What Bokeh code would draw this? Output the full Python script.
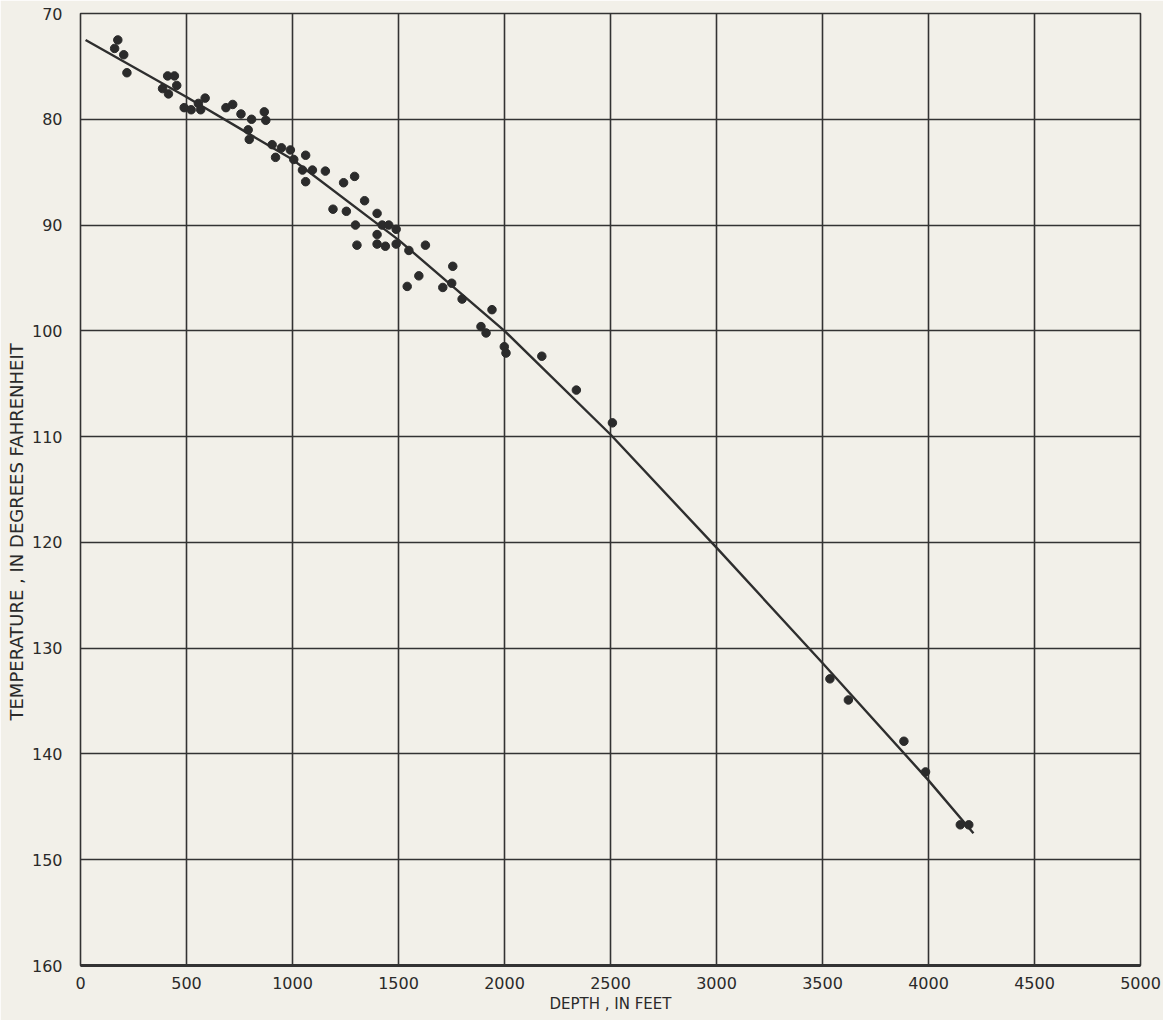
from bokeh.plotting import figure
from bokeh.models import Range1d, SingleIntervalTicker, Title
from bokeh.embed import file_html
from bokeh.resources import INLINE

# Observed well data: depth (feet) and temperature (deg F)
depth_ft = [176, 161, 204, 219, 411, 443, 454, 387, 415, 489, 522, 556, 567, 588,
            686, 718, 757, 807, 791, 796, 867, 874, 904, 920, 948, 990, 1006, 1047,
            1062, 1094, 1062, 1155, 1191, 1241, 1254, 1293, 1340, 1399, 1297, 1304,
            1399, 1399, 1438, 1423, 1454, 1489, 1489, 1549, 1627, 1756, 1596, 1541,
            1709, 1751, 1800, 1941, 1889, 1913, 1999, 2007, 2176, 2339, 2509, 3535,
            3622, 3884, 3986, 4150, 4190]
temp_f = [72.5, 73.3, 73.9, 75.6, 75.9, 75.9, 76.8, 77.1, 77.6, 78.9, 79.1, 78.5, 79.1, 78.0,
          78.9, 78.6, 79.5, 80.0, 81.0, 81.9, 79.3, 80.1, 82.4, 83.6, 82.7, 82.9, 83.8, 84.8,
          83.4, 84.8, 85.9, 84.9, 88.5, 86.0, 88.7, 85.4, 87.7, 88.9, 90.0, 91.9,
          90.9, 91.8, 92.0, 90.0, 90.0, 90.4, 91.8, 92.4, 91.9, 93.9, 94.8, 95.8,
          95.9, 95.5, 97.0, 98.0, 99.6, 100.2, 101.5, 102.1, 102.4, 105.6, 108.7, 132.9,
          134.9, 138.8, 141.7, 146.7, 146.7]

# Fitted curve
curve_depth = [24, 500, 1000, 1500, 2000, 2500, 3000, 3500, 4000, 4212]
curve_temp = [72.5, 77.9, 83.8, 91.4, 100.0, 109.8, 120.5, 131.4, 142.5, 147.5]

x_ticks = [0, 500, 1000, 1500, 2000, 2500, 3000, 3500, 4000, 4500, 5000]
y_ticks = [70, 80, 90, 100, 110, 120, 130, 140, 150, 160]

BG = "#f2f0e9"
INK = "#333333"
FONT = "DejaVu Sans"

p = figure(width=1163, height=1020, output_backend="svg", toolbar_location=None,
           x_range=Range1d(0, 5000), y_range=Range1d(160, 70),
           min_border_left=80, min_border_right=23, min_border_top=13, min_border_bottom=55)
p.background_fill_color = BG
p.border_fill_color = BG
p.outline_line_color = INK
p.outline_line_width = 1.6

p.xaxis.ticker = x_ticks
p.yaxis.ticker = y_ticks
p.xgrid.ticker = SingleIntervalTicker(interval=500)
p.ygrid.ticker = SingleIntervalTicker(interval=10)
for g in (p.xgrid, p.ygrid):
    g.grid_line_color = INK
    g.grid_line_width = 1.6
    g.grid_line_alpha = 1.0

for ax in (p.xaxis, p.yaxis):
    ax.major_tick_line_color = None
    ax.minor_tick_line_color = None
    ax.major_label_text_font = FONT
    ax.major_label_text_font_size = "16px"
    ax.major_label_text_color = "#2a2a2a"
    ax.axis_label_text_font = FONT
    ax.axis_label_text_font_style = "normal"
    ax.axis_label_text_color = "#2a2a2a"
p.yaxis.axis_line_color = None
p.xaxis.axis_line_color = INK
p.xaxis.axis_line_width = 3
p.yaxis.major_label_standoff = 12
p.xaxis.major_label_standoff = 5

p.xaxis.axis_label = "DEPTH , IN FEET"
p.xaxis.axis_label_text_font_size = "15px"
p.xaxis.axis_label_standoff = 3

p.line(curve_depth, curve_temp, line_color="#2e2e2e", line_width=2.4)
p.scatter(depth_ft, temp_f, size=8.5, fill_color="#2b2b2b", line_color="#2b2b2b")

ytitle = Title(text="TEMPERATURE , IN DEGREES FAHRENHEIT", align="left", offset=245,
               text_font=FONT, text_font_size="18px", text_font_style="normal",
               text_color="#2a2a2a", standoff=4)
p.add_layout(ytitle, "left")

open("out.html", "w").write(file_html(p, INLINE))
